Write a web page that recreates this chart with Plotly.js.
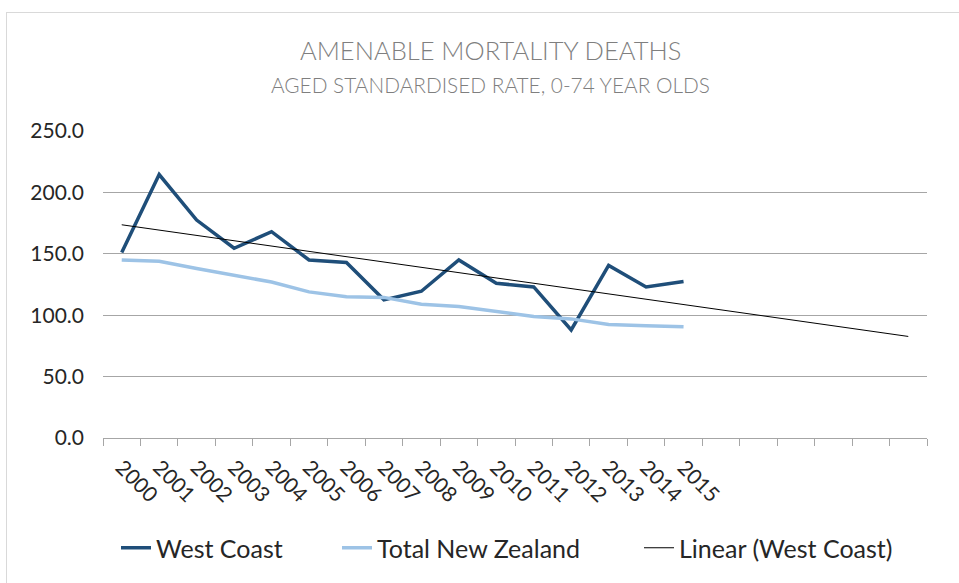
<!DOCTYPE html>
<html>
<head>
<meta charset="utf-8">
<script src="https://cdn.plot.ly/plotly-3.0.1.min.js"></script>
<style>
  html, body { margin: 0; padding: 0; background: #fff; }
  #wrap { position: relative; width: 959px; height: 583px; overflow: hidden; }
  #chart { width: 959px; height: 583px; }
  #frame { position: absolute; left: 6px; top: 12px; width: 1200px; height: 1200px;
           border-left: 1px solid #d9d9d9; border-top: 1px solid #d9d9d9; pointer-events: none; }
</style>
</head>
<body>
<div id="wrap">
  <div id="chart"></div>
  <div id="frame"></div>
</div>
<script>
// ---- data ----
const years = ["2000","2001","2002","2003","2004","2005","2006","2007","2008","2009","2010","2011","2012","2013","2014","2015"];
const westCoast = [151, 214.5, 177.5, 154.5, 168, 145, 143, 112.5, 119.5, 145, 126, 123, 88, 140.5, 123, 127.5];
const totalNZ = [145, 144, 138, 132.5, 127, 119, 115, 114.5, 109, 107, 103, 99, 97, 92.5, 91.5, 90.5];
const forecastPeriods = 6;   // trendline forward forecast (empty categories on axis)
const seriesNames = ["West Coast", "Total New Zealand", "Linear (West Coast)"];
const titleText = "AMENABLE MORTALITY DEATHS";
const subtitleText = "AGED STANDARDISED RATE, 0-74 YEAR OLDS";

// ---- positions from category indices ----
const xIdx = years.map((_, i) => i);
const nCats = years.length + forecastPeriods;

// least-squares linear trend of West Coast
const n = westCoast.length;
const mx = xIdx.reduce((a, b) => a + b, 0) / n;
const my = westCoast.reduce((a, b) => a + b, 0) / n;
let sxy = 0, sxx = 0;
for (let i = 0; i < n; i++) { sxy += (xIdx[i] - mx) * (westCoast[i] - my); sxx += (xIdx[i] - mx) ** 2; }
const slope = sxy / sxx, intercept = my - slope * mx;
const trendX = [0, nCats - 1];
const trendY = trendX.map(x => intercept + slope * x);

const FONT = "Lato, 'Open Sans', sans-serif";

const traces = [
  { x: xIdx, y: westCoast, type: "scatter", mode: "lines", name: seriesNames[0], legend: "legend",
    line: { color: "#1f4e79", width: 3.5 } },
  { x: xIdx, y: totalNZ, type: "scatter", mode: "lines", name: seriesNames[1], legend: "legend2",
    line: { color: "#9dc3e6", width: 3.5 } },
  { x: trendX, y: trendY, type: "scatter", mode: "lines", name: seriesNames[2], legend: "legend3",
    line: { color: "#000000", width: 1 } }
];

const L = 103, R = 32, T = 131, B = 145;
const plotW = 959 - L - R, plotH = 583 - T - B;
const px2x = p => (p - L) / plotW;
const px2y = p => (T + plotH - p) / plotH;

function legendAt(textStartPx) {
  return {
    orientation: "h", x: px2x(textStartPx - 41), xanchor: "left",
    y: px2y(548), yanchor: "middle",
    font: { family: FONT, size: 25, color: "#262626" },
    bgcolor: "rgba(0,0,0,0)"
  };
}

const layout = {
  width: 959, height: 583,
  margin: { l: L, r: R, t: T, b: B, pad: 0 },
  paper_bgcolor: "#ffffff", plot_bgcolor: "#ffffff",
  font: { family: FONT, color: "#262626" },
  showlegend: true,
  legend: legendAt(157),
  legend2: legendAt(378),
  legend3: legendAt(680),
  xaxis: {
    range: [-0.5, nCats - 0.5],
    tickmode: "array", tickvals: xIdx, ticktext: years,
    tickangle: 45, ticks: "", showgrid: false, zeroline: false,
    showline: true, linecolor: "#a6a6a6", linewidth: 1, ticklabelstandoff: 8,
    tickfont: { family: FONT, size: 21, color: "#262626" },
    minor: { tick0: -0.5, dtick: 1, ticks: "outside", ticklen: 7, tickcolor: "#a6a6a6", tickwidth: 1, showgrid: false },
    fixedrange: true
  },
  yaxis: {
    range: [0, 250], dtick: 50, tick0: 0, tickformat: ".1f",
    showgrid: true, gridcolor: "#a6a6a6", gridwidth: 1, zeroline: false,
    showline: false, ticks: "", ticklabelstandoff: 18,
    tickfont: { family: FONT, size: 21, color: "#262626" },
    fixedrange: true
  },
  annotations: [
    { text: titleText, xref: "paper", yref: "paper",
      x: px2x(490), y: px2y(50), xanchor: "center", yanchor: "middle",
      showarrow: false, font: { family: FONT, size: 25.5, color: "#7f7f7f", weight: 300 } },
    { text: subtitleText, xref: "paper", yref: "paper",
      x: px2x(490), y: px2y(85), xanchor: "center", yanchor: "middle",
      showarrow: false, font: { family: FONT, size: 20.8, color: "#7f7f7f", weight: 300 } }
  ]
};

Plotly.newPlot("chart", traces, layout, { staticPlot: true, displayModeBar: false });
</script>
</body>
</html>
